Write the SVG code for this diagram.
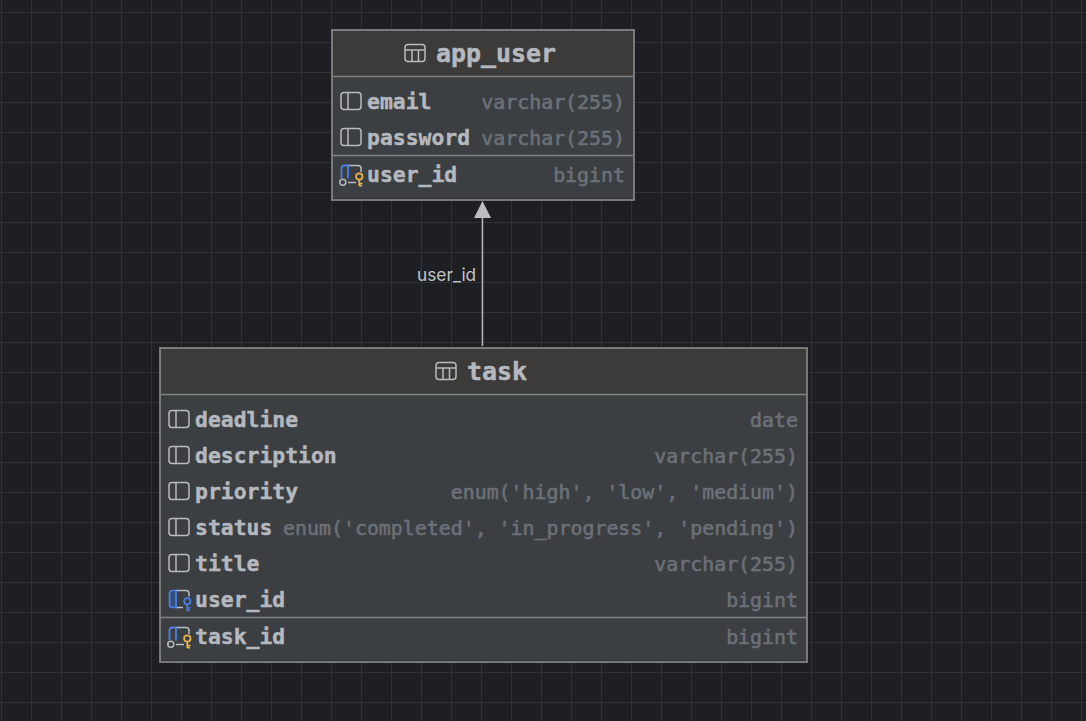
<svg xmlns="http://www.w3.org/2000/svg" width="1086" height="721" viewBox="0 0 1086 721">
<style>
.name{font:bold 21.4px "DejaVu Sans Mono","Liberation Mono",monospace;fill:#b4b8bf;stroke:#b4b8bf;stroke-width:.45}
.type{font:19.9px "DejaVu Sans Mono","Liberation Mono",monospace;fill:#6b7078;stroke:#6b7078;stroke-width:.6;text-anchor:end}
.title{font:bold 24.9px "DejaVu Sans Mono","Liberation Mono",monospace;fill:#b4b8bf;stroke:#b4b8bf;stroke-width:.5}
.lab{font:17.3px "Inter","Liberation Sans",sans-serif;fill:#c4c6c9}
.box{fill:#3c3f41;stroke:#808284;stroke-width:1.8}
.head{fill:#3c3b3a}
.sep{stroke:#808284;stroke-width:1.4}
.end{stroke:#2f3133;stroke-width:1}
.ic{fill:none;stroke:#b8bbc0;stroke-width:1.5}
.bl{fill:none;stroke:#4a7fe8;stroke-width:1.8}
.blf{fill:#34507f;stroke:#4a7fe8;stroke-width:1.7}
.key{fill:none;stroke:#e8b54a;stroke-width:1.7}
.bkey{fill:none;stroke:#4a7fe8;stroke-width:1.7}
.dot{fill:none;stroke:#b8bbc0;stroke-width:1.5}
</style>
<defs>
<pattern id="g" width="30" height="30" patternUnits="userSpaceOnUse" x="1" y="12"><path d="M0.5 0V30M0 0.5H30" fill="none" stroke="#2f3134" stroke-width="1"/></pattern>
<g id="col"><rect x="0" y="0" width="20" height="17" rx="3" class="ic"/><path d="M7 0V17" class="ic"/></g>
<g id="tbl"><rect x="0" y="0" width="20" height="17" rx="3" class="ic"/><path d="M0 5.500H20M7 5.500V17M13.500 5.500V17" class="ic"/></g>
<g id="pk"><path d="M7 0H17Q20 0 20 3V6.500M7 17H15" class="ic"/><path d="M0.500 12.500V3Q0.500 0 3.500 0H7V13" class="bl"/><circle cx="1.800" cy="16.800" r="3" class="dot"/><circle cx="18.300" cy="11" r="3.200" class="key"/><path d="M18.300 14.200V20.500M18.300 18H21.500M18.300 20.200H21" class="key"/></g>
<g id="fk"><path d="M7 0H17Q20 0 20 3V6M7 17H14" class="ic"/><path d="M7 0H3.500Q0.500 0 0.500 3V14Q0.500 17 3.500 17H7Z" class="blf"/><circle cx="18.300" cy="10.800" r="3.200" class="bkey"/><path d="M18.300 14V20.500M18.300 17.500H21.500M18.300 20H21" class="bkey"/></g>
</defs>
<rect width="1086" height="721" fill="#1e1f22"/>
<rect width="1086" height="721" fill="url(#g)"/>
<g id="connectors">
<path d="M482.500 346V215" fill="none" stroke="#b4b5b6" stroke-width="1.500"/>
<path d="M482.500 201L491 218H474Z" fill="#bdbebf"/>
<text x="417" y="281" class="lab">user_id</text>
</g>
<g id="app_user">
<rect x="332" y="30" width="302" height="170" class="box"/>
<rect x="333" y="31" width="300" height="45" class="head"/>
<path d="M333 76.500H633M333 155.500H633" class="sep"/>
<path d="M333 198.500H633" class="end"/>
<use href="#tbl" x="405" y="44.500"/>
<text x="436" y="62" class="title">app_user</text>
<use href="#col" x="341" y="92.500"/>
<text x="367" y="109" class="name">email</text>
<text x="625" y="109" class="type">varchar(255)</text>
<use href="#col" x="341" y="128.500"/>
<text x="367" y="145" class="name">password</text>
<text x="625" y="145" class="type">varchar(255)</text>
<use href="#pk" x="341" y="165.500"/>
<text x="367" y="182" class="name">user_id</text>
<text x="625" y="182" class="type">bigint</text>
</g>
<g id="task">
<rect x="160" y="348" width="647" height="314" class="box"/>
<rect x="161" y="349" width="645" height="45" class="head"/>
<path d="M161 394.500H806M161 617.500H806" class="sep"/>
<path d="M161 660.500H806" class="end"/>
<use href="#tbl" x="436" y="362.500"/>
<text x="467" y="380" class="title">task</text>
<use href="#col" x="169" y="410.500"/>
<text x="195" y="427" class="name">deadline</text>
<text x="798" y="427" class="type">date</text>
<use href="#col" x="169" y="446.500"/>
<text x="195" y="463" class="name">description</text>
<text x="798" y="463" class="type">varchar(255)</text>
<use href="#col" x="169" y="482.500"/>
<text x="195" y="499" class="name">priority</text>
<text x="798" y="499" class="type">enum('high', 'low', 'medium')</text>
<use href="#col" x="169" y="518.500"/>
<text x="195" y="535" class="name">status</text>
<text x="798" y="535" class="type">enum('completed', 'in_progress', 'pending')</text>
<use href="#col" x="169" y="554.500"/>
<text x="195" y="571" class="name">title</text>
<text x="798" y="571" class="type">varchar(255)</text>
<use href="#fk" x="169" y="590.500"/>
<text x="195" y="607" class="name">user_id</text>
<text x="798" y="607" class="type">bigint</text>
<use href="#pk" x="169" y="627.500"/>
<text x="195" y="644" class="name">task_id</text>
<text x="798" y="644" class="type">bigint</text>
</g>
</svg>
